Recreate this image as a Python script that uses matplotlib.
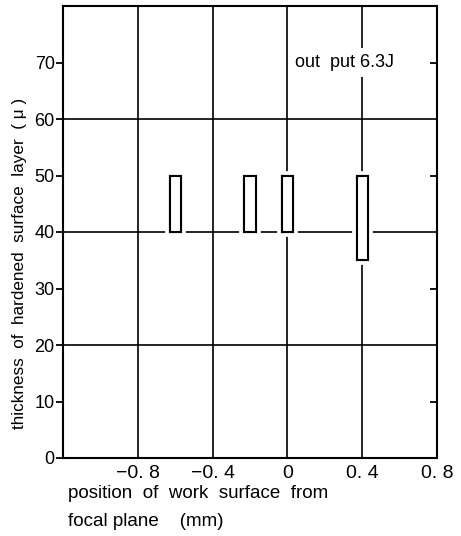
import matplotlib
matplotlib.use("Agg")
import matplotlib.pyplot as plt
import matplotlib.patheffects as pe
import numpy as np

# data
positions = [-0.6, -0.2, 0.0, 0.4]
lower = [40, 40, 40, 35]
upper = [50, 50, 50, 50]
x_ticks = [-0.8, -0.4, 0.0, 0.4, 0.8]
x_tick_labels = ["\u22120. 8", "\u22120. 4", "0", "0. 4", "0. 8"]
y_ticks = [0, 10, 20, 30, 40, 50, 60, 70]
y_tick_labels = ["0", "10", "20", "30", "40", "50", "60", "70"]
annotation = "out  put 6.3J"

plt.rcParams['font.family'] = ['Liberation Sans', 'DejaVu Sans']

fig = plt.figure(figsize=(4.61, 5.36), dpi=100)
ax = fig.add_axes([63/461, 1-458/536, (437-63)/461, (458-6)/536])
ax.set_xlim(-1.2, 0.8)
ax.set_ylim(0, 80)

for s in ax.spines.values():
    s.set_linewidth(1.5)

ax.set_xticks(x_ticks)
ax.set_xticklabels(x_tick_labels, fontsize=14)
ax.set_yticks(y_ticks)
ax.set_yticklabels(y_tick_labels, fontsize=13)
ax.tick_params(axis='x', length=0, pad=5)
ax.tick_params(axis='y', direction='out', length=5, width=1.3, pad=1)

# grid lines
for xv in [-0.8, -0.4, 0.0, 0.4]:
    ax.axvline(xv, color='black', lw=1.2, zorder=0.5)
for yv in [20, 40, 60]:
    ax.axhline(yv, color='black', lw=1.2, zorder=0.5)

# right inward ticks
ax2 = ax.twinx()
ax2.set_ylim(0, 80)
ax2.set_yticks([10, 30, 50, 70])
ax2.set_yticklabels([])
ax2.tick_params(axis='y', direction='in', length=5, width=1.3)
for s in ax2.spines.values():
    s.set_visible(False)

heights = [u - l for u, l in zip(upper, lower)]
bars = ax.bar(positions, heights, bottom=lower, width=0.06, facecolor='white',
              edgecolor='black', linewidth=1.5, zorder=3)
for b in bars:
    b.set_path_effects([pe.withStroke(linewidth=7, foreground='white'), pe.Normal()])

ax.text(0.043, 70, annotation, fontsize=13, va='center', ha='left', zorder=4,
        bbox=dict(facecolor='white', edgecolor='none', pad=4.5))

ax.set_ylabel("thickness  of  hardened  surface  layer  ( \u03bc )", fontsize=12.3)
ax.yaxis.set_label_coords(-0.095, 0.43)

fig.text(68/461, 1-493/536, "position  of  work  surface  from", fontsize=13.5, va='center', ha='left')
fig.text(68/461, 1-521/536, "focal plane    (mm)", fontsize=13.5, va='center', ha='left')

fig.savefig("out.png", dpi=100)
